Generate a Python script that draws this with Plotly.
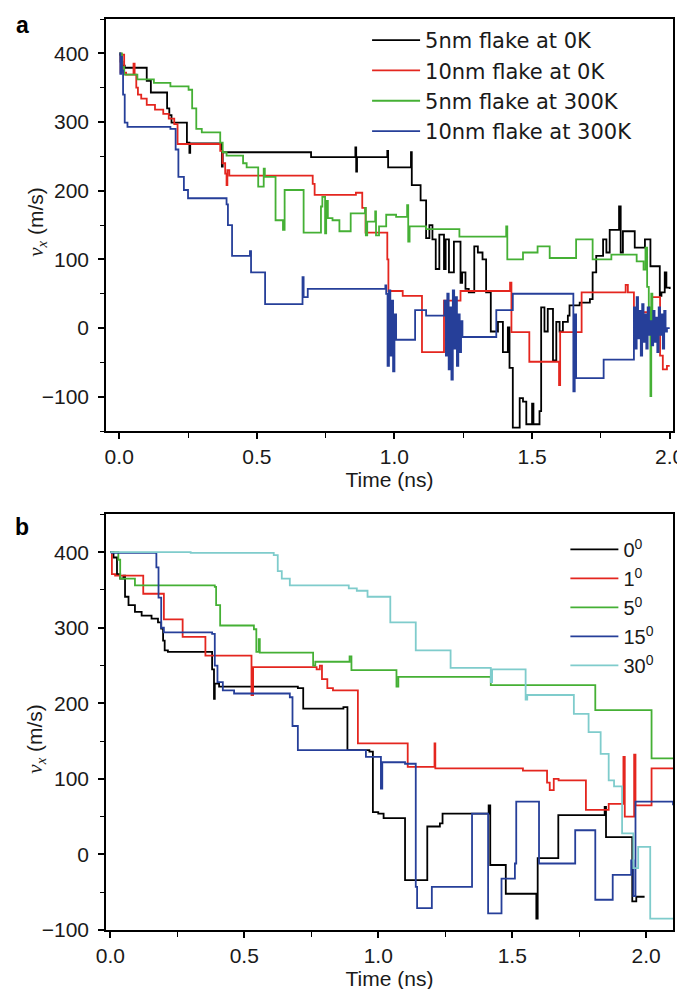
import plotly.graph_objects as go

# ---------------- Panel a data (time in ns, v_x in m/s), step series ----------------
a_black_t = [0.0, 0.005, 0.012, 0.02, 0.10, 0.115, 0.174, 0.182, 0.19, 0.246, 0.255, 0.258, 0.373, 0.376,
             0.697, 0.858, 0.861, 0.864, 0.974, 0.977, 1.06, 1.063, 1.095, 1.115, 1.127, 1.138, 1.15,
             1.163, 1.18, 1.186, 1.198, 1.216, 1.24, 1.246, 1.258, 1.27, 1.29, 1.303, 1.32, 1.333, 1.35,
             1.376, 1.394, 1.412, 1.418, 1.43, 1.455, 1.467, 1.479, 1.5, 1.505, 1.527, 1.533, 1.545,
             1.557, 1.576, 1.588, 1.6, 1.612, 1.63, 1.636, 1.673, 1.71, 1.72, 1.733, 1.758, 1.77, 1.782,
             1.816, 1.822, 1.83, 1.873, 1.91, 1.93, 1.964, 1.97, 1.982, 1.988, 2.0]
a_black_v = [398, 388, 382, 379, 360, 343, 320, 310, 299, 270, 255, 269, 235, 256,
             249, 263, 228, 249, 258, 234, 256, 208, 186, 131, 150, 129, 86,
             136, 86, 129, 81, 126, 66, 81, 57, 52, 119, 110, 100, 52, -5,
             9, -35, 1, -58, -145, -102, -107, -140, -110, -140, -121, 30, -5,
             28, -47, 9, -5, 9, 18, 33, 37, 42, 81, 105, 129, 110, 143,
             177, 110, 141, 117, 129, 90, 47, 52, 81, 59, 57]

a_red_t = [0.0, 0.005, 0.01, 0.018, 0.025, 0.052, 0.056, 0.062, 0.068, 0.08, 0.1, 0.13, 0.16, 0.18,
           0.2, 0.212, 0.367, 0.375, 0.385, 0.39, 0.393, 0.40, 0.703, 0.71, 0.86, 0.883, 0.895,
           0.974, 0.978, 1.03, 1.10, 1.18, 1.24, 1.42, 1.425, 1.49, 1.598, 1.602, 1.68, 1.84,
           1.848, 1.87, 1.935, 1.965, 1.975, 1.99, 2.0]
a_red_v = [400, 372, 398, 372, 369, 385, 369, 350, 340, 334, 325, 318, 312, 305,
           297, 268, 258, 240, 225, 208, 230, 222, 210, 194, 197, 175, 139,
           100, 54, 47, -35, 40, 54, 66, -6, -49, -83, -6, 52, 63,
           52, 23, 45, -40, -60, -55, -55]

a_green_t = [0.0, 0.01, 0.018, 0.066, 0.126, 0.186, 0.252, 0.265, 0.28, 0.3, 0.367, 0.376, 0.39, 0.45,
             0.463, 0.505, 0.525, 0.529, 0.568, 0.595, 0.601, 0.67, 0.733, 0.738, 0.748, 0.752,
             0.758, 0.775, 0.8, 0.841, 0.893, 0.896, 0.901, 0.93, 0.933, 0.944, 0.97, 1.006,
             1.046, 1.05, 1.055, 1.115, 1.236, 1.406, 1.41, 1.467, 1.52, 1.564, 1.66, 1.72, 1.788,
             1.88, 1.905, 1.912, 1.918, 1.924, 1.93, 1.933, 1.937, 1.94]
a_green_v = [400, 380, 369, 362, 357, 352, 347, 320, 290, 285, 270, 256, 251, 240,
             234, 206, 232, 220, 157, 143, 201, 139, 177, 191, 138, 185,
             160, 157, 141, 167, 175, 135, 155, 170, 135, 148, 165, 162,
             179, 126, 148, 144, 133, 148, 100, 110, 119, 102, 129, 100, 107,
             97, 85, 117, 60, 30, -99, 50, 10, 20]

a_blue_t = [0.0, 0.004, 0.007, 0.01, 0.014, 0.02, 0.03, 0.186, 0.205, 0.215, 0.235, 0.25, 0.39,
            0.395, 0.41, 0.475, 0.479, 0.53, 0.666, 0.67, 0.685, 0.967, 0.97, 0.975, 0.98, 0.985,
            0.99, 0.995, 1.0, 1.006, 1.075, 1.115, 1.182, 1.187, 1.192, 1.197, 1.202, 1.207, 1.212,
            1.217, 1.222, 1.227, 1.232, 1.237, 1.242, 1.247, 1.25, 1.37, 1.43, 1.65, 1.655, 1.66,
            1.76, 1.87, 1.875, 1.88, 1.885, 1.89, 1.895, 1.9, 1.905, 1.91, 1.915, 1.92, 1.925,
            1.93, 1.935, 1.94, 1.945, 1.95, 1.955, 1.96, 1.965, 1.97, 1.975, 1.98, 1.985, 1.99, 2.0]
a_blue_v = [400, 370, 395, 375, 340, 299, 293, 290, 260, 220, 201, 189, 180,
            150, 105, 112, 81, 35, 74, 45, 57, 62, 50, -55, 55, -40,
            40, -63, 20, -17, 26, 18, 40, -40, 50, -60, 30, -75, 55,
            -30, 45, -55, 20, -35, 10, -13, -13, 26, 50, -92, 20, -73,
            -46, 30, -30, 45, -15, 25, -40, 35, -20, 20, -30, 30,
            -10, 10, -25, 25, -20, 15, -35, 30, -10, 20, -30, 25, -5, 0, 0]

# ---------------- Panel b data ----------------
b_0_t = [0.0, 0.012, 0.025, 0.037, 0.049, 0.055, 0.068, 0.092, 0.117, 0.154, 0.178, 0.19, 0.197,
         0.203, 0.215, 0.38, 0.387, 0.39, 0.406, 0.7, 0.72, 0.87, 0.885, 0.967, 0.98, 1.0, 1.02,
         1.1, 1.183, 1.23, 1.24, 1.412, 1.418, 1.476, 1.59, 1.595, 1.672, 1.845, 1.85, 1.948,
         1.963, 1.994]
b_0_v = [400, 393, 371, 365, 369, 341, 330, 321, 316, 312, 307, 299, 283,
         270, 268, 245, 206, 226, 222, 220, 193, 195, 138, 136, 56, 54, 48,
         -34, 37, 41, 54, 65, -14, -52, -85, -5, 52, 63, 23, -62,
         -56, -56]

b_1_t = [0.0, 0.006, 0.018, 0.123, 0.2, 0.27, 0.355, 0.527, 0.533, 0.77, 0.782, 0.79, 0.81, 0.831,
         0.924, 1.11, 1.21, 1.213, 1.54, 1.63, 1.64, 1.655, 1.673, 1.775, 1.86, 1.915, 1.92, 1.955,
         1.96, 2.02, 2.1]
b_1_v = [400, 371, 369, 345, 311, 288, 263, 211, 248, 245, 250, 232, 220, 217,
         147, 116, 147, 114, 111, 95, 85, 100, 98, 59, 67, 129, 50, 132,
         65, 114, 114]

b_5_t = [0.0, 0.03, 0.037, 0.092, 0.39, 0.395, 0.41, 0.536, 0.545, 0.554, 0.558, 0.757, 0.765,
         0.893, 0.9, 1.068, 1.075, 1.42, 1.81, 2.02, 2.1]
b_5_v = [400, 390, 365, 356, 354, 330, 303, 298, 268, 285, 267, 250, 255,
         262, 244, 222, 235, 224, 191, 127, 127]

b_15_t = [0.0, 0.005, 0.172, 0.18, 0.19, 0.2, 0.38, 0.39, 0.4, 0.42, 0.462, 0.67, 0.68, 0.7,
          0.954, 1.01, 1.015, 1.1, 1.14, 1.145, 1.2, 1.35, 1.41, 1.46, 1.51, 1.515, 1.6, 1.735,
          1.81, 1.875, 1.944, 1.952, 1.96, 2.1]
b_15_v = [400, 399, 380, 340, 300, 294, 292, 250, 228, 217, 213, 208, 170, 138,
          129, 87, 122, 120, -43, -71, -43, 54, -78, -32, -12, 70, -12, 32,
          -60, -27, -8, -55, 70, 65, 65]

b_30_t = [0.0, 0.3, 0.61, 0.625, 0.64, 0.67, 0.89, 0.92, 0.96, 1.045, 1.14, 1.27, 1.42, 1.425,
          1.55, 1.556, 1.73, 1.785, 1.83, 1.86, 1.88, 1.91, 1.952, 1.97, 2.015, 2.1]
b_30_v = [400, 399, 396, 375, 365, 356, 352, 349, 341, 307, 270, 247, 228, 245,
          205, 211, 186, 162, 133, 98, 90, 28, -18, 10, -85, -85]

# ---------------- Labels ----------------
legend_a = ["5nm flake at 0K", "10nm flake at 0K", "5nm flake at 300K", "10nm flake at 300K"]
legend_b = ["0<sup>0</sup>", "1<sup>0</sup>", "5<sup>0</sup>", "15<sup>0</sup>", "30<sup>0</sup>"]
x_title = "Time (ns)"
y_title = "<span style=\"font-family:'Liberation Serif'\"><i>v</i><sub><i>x</i></sub></span> (m/s)"
y_ticks = [-100, 0, 100, 200, 300, 400]
x_ticks = [0.0, 0.5, 1.0, 1.5, 2.0]

colors_a = ["#000000", "#e4261f", "#45b035", "#263f99"]
colors_b = ["#000000", "#e4261f", "#45b035", "#263f99", "#7fcccc"]

FONT = "Liberation Sans, Arial, sans-serif"
WIDE = "DejaVu Sans, Verdana, sans-serif"
TXT = "#1a1a1a"
LW = 1.8
fig = go.Figure()

series_a = [(a_black_t, a_black_v), (a_red_t, a_red_v), (a_green_t, a_green_v), (a_blue_t, a_blue_v)]
for i, (t, v) in enumerate(series_a):
    fig.add_trace(go.Scatter(x=t, y=v, mode="lines", line=dict(color=colors_a[i], width=LW, shape="hv"),
                             name=legend_a[i], xaxis="x", yaxis="y", legend="legend",
                             legendgroup="a%d" % i))

series_b = [(b_0_t, b_0_v), (b_1_t, b_1_v), (b_5_t, b_5_v), (b_15_t, b_15_v), (b_30_t, b_30_v)]
for i, (t, v) in enumerate(series_b):
    fig.add_trace(go.Scatter(x=t, y=v, mode="lines", line=dict(color=colors_b[i], width=LW, shape="hv"),
                             name=legend_b[i], xaxis="x2", yaxis="y2", legend="legend2",
                             legendgroup="b%d" % i))

L, R, T, B = 98, 18, 9, 67
W, H = 685, 989
ph = H - T - B


def py(px):
    return (H - B - px) / ph


def pxx(px):
    return (px - L) / (W - L - R)


axis_common = dict(showline=True, linecolor="black", linewidth=1.6, mirror=True, ticks="outside",
                   ticklen=6, tickwidth=1.5, tickcolor="black", showgrid=False, zeroline=False,
                   tickfont=dict(family=FONT, size=21, color=TXT))
xminor = dict(dtick=0.25, tick0=0, ticks="outside", ticklen=5, tickwidth=1.3, tickcolor="black")
yminor = dict(dtick=50, tick0=0, ticks="outside", ticklen=4, tickwidth=1.3, tickcolor="black")

fig.update_layout(
    width=W, height=H, margin=dict(l=L, r=R, t=T, b=B),
    paper_bgcolor="white", plot_bgcolor="white",
    font=dict(family=FONT, size=20, color=TXT),
    xaxis=dict(domain=[0, 1], anchor="y", range=[-0.048, 2.012], tickvals=x_ticks, tickformat=".1f",
               minor=xminor, title=dict(text=x_title, font=dict(family=FONT, size=21), standoff=2),
               **axis_common),
    yaxis=dict(domain=[py(422), 1], anchor="x", range=[-150, 450], tickvals=y_ticks,
               minor=yminor, ticklabelstandoff=5, **axis_common),
    xaxis2=dict(domain=[0, 1], anchor="y2", range=[-0.016, 2.1], tickvals=x_ticks, tickformat=".1f",
                minor=xminor, title=dict(text=x_title, font=dict(family=FONT, size=21), standoff=0),
                **axis_common),
    yaxis2=dict(domain=[0, py(505.5)], anchor="x2", range=[-100, 450], tickvals=y_ticks,
                minor=yminor, ticklabelstandoff=5, **axis_common),
    legend=dict(x=pxx(360), y=py(10), xanchor="left", yanchor="top", bgcolor="rgba(0,0,0,0)",
                font=dict(family=WIDE, size=21, color=TXT), tracegroupgap=0, borderwidth=0,
                itemwidth=48),
    legend2=dict(x=pxx(559), y=py(521), xanchor="left", yanchor="top", bgcolor="rgba(0,0,0,0)",
                 font=dict(family=FONT, size=20, color=TXT), tracegroupgap=0, borderwidth=0,
                 itemwidth=48),
    showlegend=True,
)

fig.add_annotation(text="<b>a</b>", x=pxx(14), y=py(15), xref="paper", yref="paper", showarrow=False,
                   xanchor="center", yanchor="middle", font=dict(family=FONT, size=23, color="black"))
fig.add_annotation(text="<b>b</b>", x=pxx(14), y=py(518), xref="paper", yref="paper", showarrow=False,
                   xanchor="center", yanchor="middle", font=dict(family=FONT, size=23, color="black"))
fig.add_annotation(text=y_title, x=pxx(28), y=py(212), xref="paper", yref="paper", showarrow=False,
                   xanchor="center", yanchor="middle",
                   textangle=-90, font=dict(family=FONT, size=21, color=TXT))
fig.add_annotation(text=y_title, x=pxx(28), y=py(730), xref="paper", yref="paper", showarrow=False,
                   xanchor="center", yanchor="middle",
                   textangle=-90, font=dict(family=FONT, size=21, color=TXT))

fig.write_html("out.html")
